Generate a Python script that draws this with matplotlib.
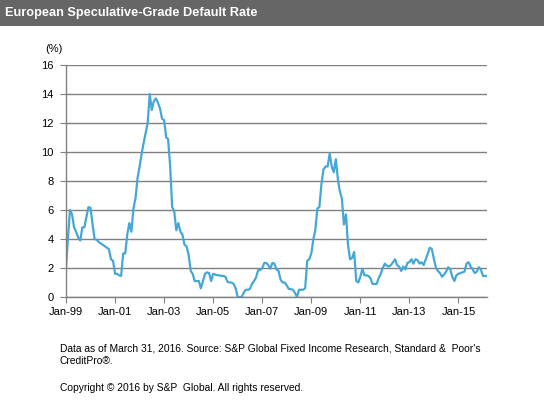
import matplotlib
matplotlib.use("Agg")
import matplotlib.pyplot as plt
import matplotlib.dates as mdates
import pandas as pd

plt.rcParams['font.family'] = ['Liberation Sans', 'DejaVu Sans']

start_month = "1999-01-01"
default_rate = [
    2.0, 4.2, 6.0, 5.7, 4.8, 4.5, 4.1, 3.9, 4.8, 4.8, 5.5, 6.2,
    6.15, 5.0, 4.0, 3.95, 3.8, 3.7, 3.6, 3.5, 3.4, 3.3, 2.6, 2.5,
    1.6, 1.6, 1.5, 1.45, 3.0, 3.0, 4.3, 5.1, 4.5, 6.1, 6.8, 8.2,
    9.0, 9.9, 10.6, 11.3, 12.0, 14.0, 12.9, 13.5, 13.7, 13.4, 13.0, 12.3,
    12.2, 11.0, 10.9, 9.0, 6.2, 5.9, 4.6, 5.1, 4.5, 4.3, 3.6, 3.5,
    2.9, 1.8, 1.6, 1.1, 1.1, 1.1, 0.6, 1.1, 1.6, 1.7, 1.65, 1.1,
    1.6, 1.55, 1.5, 1.5, 1.45, 1.45, 1.4, 1.05, 1.0, 1.0, 0.9, 0.6,
    0.0, 0.0, 0.0, 0.3, 0.5, 0.5, 0.55, 0.9, 1.1, 1.35, 1.85, 1.85,
    2.0, 2.35, 2.35, 2.2, 1.95, 2.35, 2.3, 1.9, 1.8, 1.2, 1.0, 1.0,
    0.8, 0.55, 0.55, 0.5, 0.3, 0.0, 0.5, 0.5, 0.5, 0.6, 2.5, 2.6,
    3.0, 4.0, 4.6, 6.1, 6.2, 7.8, 8.8, 9.0, 9.0, 9.9, 9.0, 8.6,
    9.5, 8.1, 7.3, 6.8, 5.0, 5.7, 3.6, 2.6, 2.7, 3.1, 1.1, 1.0,
    1.4, 1.95, 1.5, 1.5, 1.45, 1.3, 0.9, 0.9, 0.9, 1.3, 1.6, 2.0,
    2.3, 2.15, 2.1, 2.2, 2.4, 2.6, 2.2, 2.1, 1.8, 2.1, 1.9, 2.35,
    2.4, 2.6, 2.3, 2.6, 2.55, 2.3, 2.4, 2.2, 2.6, 3.0, 3.4, 3.3,
    2.6, 2.0, 1.8, 1.65, 1.4, 1.55, 1.75, 2.05, 1.9, 1.4, 1.1, 1.5,
    1.6, 1.65, 1.7, 1.75, 2.3, 2.4, 2.1, 1.9, 1.65, 1.75, 2.05, 1.9,
    1.45, 1.45, 1.45,
]
dates = pd.date_range(start_month, periods=len(default_rate), freq="MS")

y_ticks = [0, 2, 4, 6, 8, 10, 12, 14, 16]
x_tick_years = [1999, 2001, 2003, 2005, 2007, 2009, 2011, 2013, 2015]

title = "European Speculative-Grade Default Rate"
note1 = "Data as of March 31, 2016. Source: S&P Global Fixed Income Research, Standard &  Poor's"
note2 = "CreditPro\u00ae."
note3 = "Copyright \u00a9 2016 by S&P  Global. All rights reserved."

W, H = 544, 415
fig = plt.figure(figsize=(W / 100, H / 100), dpi=100)
fig.patch.set_facecolor("white")

# title bar
bar = fig.add_axes([0, 1 - 26 / H, 1, 26 / H])
bar.set_facecolor("#666666")
bar.set_xticks([]); bar.set_yticks([])
for s in bar.spines.values():
    s.set_visible(False)
fig.text(5 / W, 1 - 13 / H, title, color="white", fontsize=9.2, fontweight="bold",
         va="center", ha="left")

ax = fig.add_axes([66 / W, 1 - 297 / H, (487 - 66) / W, (297 - 65) / H])
ax.plot(dates, default_rate, color="#45A7D6", lw=1.6, solid_joinstyle="round")
ax.set_ylim(0, 16)
ax.set_yticks(y_ticks)
ax.set_xlim(dates[0], dates[-1])
ax.set_xticks([pd.Timestamp(f"{y}-01-01") for y in x_tick_years])
ax.xaxis.set_major_formatter(mdates.DateFormatter("%b-%y"))
ax.grid(axis="y", color="#808080", lw=1)
ax.set_axisbelow(True)
for s in ["right", "top"]:
    ax.spines[s].set_visible(False)
for s in ["left", "bottom"]:
    ax.spines[s].set_color("#808080")
    ax.spines[s].set_linewidth(1)
ax.tick_params(axis="y", length=4, color="#808080", direction="out", pad=5, labelsize=8)
ax.tick_params(axis="x", length=4, color="#808080", direction="out", pad=3, labelsize=8)

fig.text(45 / W, 1 - 49 / H, "(%)", fontsize=8, ha="left", va="center")
fig.text(60 / W, 1 - 348 / H, note1, fontsize=7.4, ha="left", va="center")
fig.text(60 / W, 1 - 361 / H, note2, fontsize=7.4, ha="left", va="center")
fig.text(60 / W, 1 - 388 / H, note3, fontsize=7.4, ha="left", va="center")

fig.savefig("out.png", dpi=100)
